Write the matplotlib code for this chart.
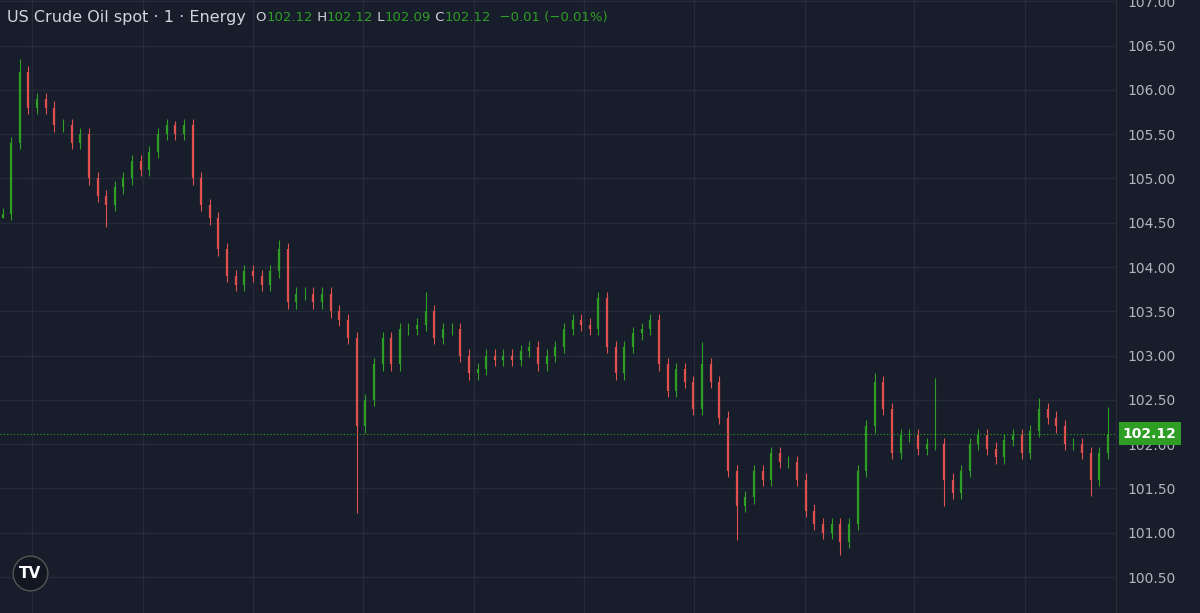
import matplotlib.pyplot as plt
import numpy as np

# closing prices, left to right
closes = [104.6, 105.4, 106.2, 105.8, 105.9, 105.8, 105.6, 105.6, 105.4, 105.5,
          105.0, 104.8, 104.7, 104.9, 105.0, 105.2, 105.1, 105.3, 105.5, 105.6,
          105.5, 105.6, 105.0, 104.7, 104.55, 104.2, 103.9, 103.8, 103.95, 103.9,
          103.8, 103.95, 104.2, 103.6, 103.7, 103.7, 103.6, 103.7, 103.5, 103.4,
          103.2, 102.2, 102.5, 102.9, 103.2, 102.9, 103.3, 103.3, 103.35, 103.5,
          103.2, 103.3, 103.3, 103.0, 102.8, 102.85, 103.0, 102.95, 103.0, 102.95,
          103.05, 103.1, 102.9, 103.0, 103.1, 103.3, 103.4, 103.35, 103.3, 103.65,
          103.1, 102.8, 103.1, 103.25, 103.3, 103.4, 102.9, 102.6, 102.85, 102.7,
          102.4, 102.9, 102.7, 102.3, 101.7, 101.3, 101.4, 101.7, 101.6, 101.9,
          101.8, 101.8, 101.6, 101.25, 101.1, 101.0, 101.1, 100.9, 101.1, 101.7,
          102.2, 102.7, 102.4, 101.9, 102.1, 102.1, 101.95, 102.0, 102.0, 101.6,
          101.45, 101.7, 102.0, 102.1, 101.95, 101.85, 102.05, 102.1, 101.9, 102.15,
          102.4, 102.3, 102.2, 102.0, 102.0, 101.9, 101.6, 101.9, 102.12]
# notable wick extremes: bar index -> price
wick_highs = {2: 106.35, 20: 105.65, 32: 104.3, 49: 103.72, 69: 103.72, 81: 103.15, 101: 102.8, 108: 102.75, 120: 102.52, 128: 102.42}
wick_lows = {0: 104.55, 12: 104.45, 41: 101.22, 85: 100.92, 97: 100.75, 109: 101.3, 126: 101.42}

yticks = [100.5 + 0.5 * i for i in range(14)]

bg = "#171d2a"
up = "#2f9e25"
down = "#e0504f"

closes = np.array(closes)
opens = np.concatenate([[closes[0] - 0.05], closes[:-1]])
highs = np.maximum(opens, closes) + 0.07
lows = np.minimum(opens, closes) - 0.07
for i, v in wick_highs.items():
    highs[i] = v
for i, v in wick_lows.items():
    lows[i] = v
x = np.arange(len(closes))
colors = [up if c >= o else down for o, c in zip(opens, closes)]

fig = plt.figure(figsize=(12, 6.13), dpi=100, facecolor=bg)
ax = fig.add_axes([0, 0, 1116 / 1200, 1])
ax.set_facecolor(bg)

ax.vlines(x, lows, highs, colors=colors, linewidth=0.8)
ax.vlines(x, np.minimum(opens, closes), np.maximum(opens, closes), colors=colors, linewidth=1.6)

n = len(closes)
xmax = (n - 1) * 1116 / 1108
ax.set_xlim(-0.3, xmax)
ax.set_ylim(100.094, 107.015)

# grid
span = xmax + 0.3
for gx in [32, 143, 253, 363, 474, 584, 694, 805, 914, 1025]:
    ax.axvline(-0.3 + gx / 1116 * span, color="#242b39", linewidth=1, zorder=0)
for t in yticks:
    ax.axhline(t, color="#242b39", linewidth=1, zorder=0)

ax.yaxis.tick_right()
ax.set_yticks(yticks)
ax.set_yticklabels([f"{t:.2f}" for t in yticks], color="#b2b5be", fontsize=10)
ax.tick_params(axis="y", length=0, pad=8)
ax.set_xticks([])
for s in ["top", "bottom", "left"]:
    ax.spines[s].set_visible(False)
ax.spines["right"].set_color("#2a2e39")

# last price line and label
last = closes[-1]
ax.axhline(last, color=up, linewidth=0.8, linestyle=(0, (1, 2)))
ax.text(1.006, last, f"{last:.2f}", transform=ax.get_yaxis_transform(), va="center", ha="left",
        color="white", fontsize=10, fontweight="bold",
        bbox=dict(boxstyle="square,pad=0.3", fc=up, ec="none"))

# header
fig.canvas.draw()
r = fig.canvas.get_renderer()
title = fig.text(0.006, 0.972, "US Crude Oil spot · 1 · Energy", color="#d1d4dc", fontsize=11.5, va="center")
xpos = 0.006 + title.get_window_extent(renderer=r).width / fig.bbox.width + 0.008
parts = [("O", "#d1d4dc"), ("102.12", up), (" H", "#d1d4dc"), ("102.12", up), (" L", "#d1d4dc"),
         ("102.09", up), (" C", "#d1d4dc"), ("102.12", up), ("  −0.01 (−0.01%)", up)]
for txt, col in parts:
    t = fig.text(xpos, 0.972, txt, color=col, fontsize=9.5, va="center")
    xpos += t.get_window_extent(renderer=r).width / fig.bbox.width

# logo
fig.add_artist(plt.Line2D([30 / 1200], [40 / 613], marker="o", markersize=25,
                          markerfacecolor="#131722", markeredgecolor="#555", transform=fig.transFigure))
fig.text(30 / 1200, 40 / 613, "TV", color="white", fontsize=11, fontweight="bold", ha="center", va="center")

fig.savefig("out.png", facecolor=bg)
